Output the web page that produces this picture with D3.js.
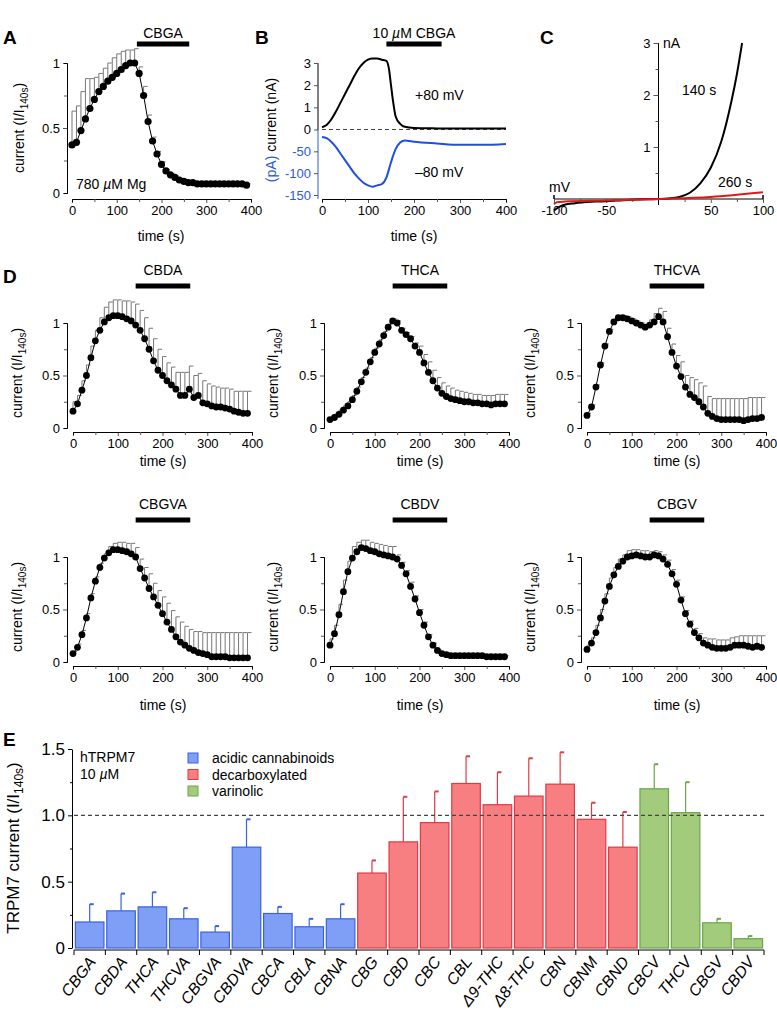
<!DOCTYPE html>
<html><head><meta charset="utf-8">
<script src="https://cdn.jsdelivr.net/npm/d3@7/dist/d3.min.js"></script>
<style>body{margin:0;background:#fff}text{font-family:"Liberation Sans",Arial,sans-serif}</style>
</head><body>
<svg id="c" width="777" height="1012"></svg>
<script>
const timeA = d3.range(0, 400, 10);
const valA = [0.37,0.39,0.48,0.57,0.65,0.72,0.78,0.82,0.86,0.89,0.92,0.95,0.98,1.0,1.0,0.92,0.75,0.55,0.40,0.30,0.22,0.17,0.14,0.12,0.10,0.09,0.08,0.08,0.07,0.07,0.07,0.07,0.07,0.07,0.07,0.07,0.07,0.07,0.07,0.06];
const errA = [0.63,0.67,0.78,0.88,0.88,0.89,0.92,0.96,1.0,1.04,1.07,1.09,1.1,1.1,1.11,0.97,0.82,0.6,0.43,0.32,0.24,0.18,0.15,0.13,0.11,0.1,0.09,0.09,0.08,0.08,0.08,0.08,0.08,0.08,0.08,0.08,0.08,0.08,0.08,0.07];

const timeB = [0,10,20,30,40,50,60,70,80,90,100,110,120,130,140,145,150,155,160,170,180,200,250,300,400];
const posB = [0.1,0.2,0.45,0.8,1.2,1.6,2.0,2.4,2.75,3.0,3.15,3.2,3.2,3.15,3.1,2.8,2.0,1.2,0.6,0.25,0.12,0.07,0.05,0.04,0.04];
const timeBn = [0,10,20,30,40,50,60,70,80,90,100,110,120,130,140,150,160,170,180,200,250,300,350,400];
const negB = [-17,-20,-28,-40,-55,-70,-85,-100,-112,-122,-128,-131,-128,-125,-110,-75,-45,-30,-25,-28,-32,-35,-35,-33];

const vC1 = [-100,-95,-90,-80,-60,-40,-20,0,10,20,30,40,50,60,70,75,80];
const iC1 = [-0.22,-0.15,-0.11,-0.08,-0.05,-0.03,-0.01,0,0.01,0.04,0.12,0.3,0.6,1.1,1.9,2.4,3.0];
const vC2 = [-100,-97,-90,-50,0,50,100];
const iC2 = [-0.1,-0.06,-0.05,-0.03,0,0.04,0.13];

const timeD = d3.range(0, 400, 10);
const dNames = ["CBDA","THCA","THCVA","CBGVA","CBDV","CBGV"];
const dVal = [
[0.16,0.23,0.36,0.5,0.67,0.83,0.93,1.01,1.05,1.07,1.07,1.06,1.04,1.02,0.98,0.93,0.85,0.75,0.64,0.55,0.5,0.45,0.41,0.37,0.31,0.31,0.37,0.29,0.31,0.24,0.23,0.21,0.2,0.2,0.19,0.18,0.16,0.15,0.14,0.14],
[0.08,0.1,0.13,0.17,0.21,0.27,0.35,0.44,0.53,0.63,0.72,0.8,0.88,0.96,1.02,1.0,0.93,0.89,0.85,0.78,0.72,0.62,0.53,0.45,0.38,0.33,0.3,0.28,0.27,0.26,0.25,0.25,0.24,0.24,0.23,0.23,0.22,0.23,0.23,0.23],
[0.12,0.2,0.39,0.6,0.78,0.92,1.01,1.05,1.05,1.04,1.02,1.0,0.98,0.96,0.98,1.01,1.06,1.01,0.87,0.72,0.59,0.49,0.39,0.32,0.29,0.25,0.2,0.14,0.11,0.09,0.08,0.08,0.08,0.08,0.08,0.07,0.08,0.09,0.09,0.1],
[0.08,0.14,0.26,0.42,0.61,0.77,0.9,0.99,1.04,1.07,1.07,1.06,1.05,1.03,1.0,0.89,0.8,0.7,0.62,0.54,0.46,0.38,0.31,0.24,0.19,0.16,0.13,0.11,0.09,0.08,0.07,0.05,0.05,0.05,0.05,0.04,0.04,0.04,0.04,0.04],
[0.16,0.27,0.45,0.67,0.86,0.99,1.05,1.09,1.08,1.06,1.05,1.03,1.02,1.01,1.0,0.98,0.92,0.84,0.72,0.6,0.47,0.35,0.24,0.16,0.11,0.08,0.07,0.06,0.06,0.06,0.06,0.06,0.06,0.06,0.06,0.05,0.05,0.05,0.05,0.05],
[0.12,0.18,0.28,0.42,0.58,0.72,0.83,0.91,0.96,1.0,1.01,1.02,1.01,1.0,1.0,1.02,1.01,0.98,0.93,0.84,0.74,0.59,0.46,0.36,0.28,0.23,0.18,0.16,0.14,0.13,0.13,0.13,0.14,0.16,0.16,0.16,0.15,0.14,0.15,0.14]];
const dErr = [
[0.25,0.31,0.45,0.6,0.78,0.93,1.05,1.15,1.2,1.22,1.22,1.21,1.21,1.2,1.18,1.12,1.05,0.95,0.85,0.75,0.68,0.62,0.58,0.53,0.53,0.53,0.59,0.5,0.52,0.45,0.42,0.4,0.39,0.38,0.38,0.37,0.35,0.35,0.35,0.35],
[0.1,0.13,0.17,0.21,0.25,0.31,0.39,0.48,0.57,0.67,0.76,0.84,0.92,0.99,1.04,1.02,0.95,0.91,0.87,0.81,0.78,0.7,0.63,0.55,0.48,0.43,0.4,0.38,0.36,0.35,0.34,0.33,0.32,0.32,0.31,0.31,0.31,0.32,0.32,0.32],
[0.14,0.22,0.41,0.62,0.8,0.94,1.03,1.07,1.07,1.06,1.04,1.02,1.0,0.98,1.03,1.09,1.14,1.11,0.95,0.8,0.69,0.63,0.5,0.48,0.46,0.43,0.4,0.3,0.28,0.28,0.28,0.28,0.28,0.28,0.28,0.28,0.29,0.29,0.29,0.29],
[0.1,0.17,0.3,0.46,0.65,0.81,0.94,1.03,1.1,1.13,1.14,1.14,1.13,1.13,1.09,0.98,0.9,0.84,0.75,0.68,0.62,0.56,0.49,0.43,0.38,0.34,0.31,0.29,0.29,0.28,0.28,0.28,0.28,0.28,0.28,0.28,0.28,0.28,0.28,0.28],
[0.22,0.35,0.55,0.78,0.96,1.1,1.14,1.16,1.16,1.14,1.13,1.12,1.11,1.1,1.1,1.02,0.95,0.87,0.76,0.63,0.5,0.38,0.26,0.18,0.12,0.09,0.08,0.07,0.07,0.07,0.07,0.07,0.07,0.07,0.07,0.06,0.06,0.06,0.06,0.06],
[0.16,0.23,0.35,0.5,0.65,0.8,0.9,0.98,1.02,1.06,1.07,1.07,1.06,1.06,1.05,1.06,1.05,1.02,0.97,0.88,0.78,0.62,0.49,0.39,0.32,0.27,0.23,0.22,0.22,0.21,0.21,0.21,0.23,0.24,0.25,0.25,0.25,0.25,0.25,0.25]];

const eNames = ["CBGA","CBDA","THCA","THCVA","CBGVA","CBDVA","CBCA","CBLA","CBNA","CBG","CBD","CBC","CBL","Δ9-THC","Δ8-THC","CBN","CBNM","CBND","CBCV","THCV","CBGV","CBDV"];
const eVal = [0.196,0.28,0.31,0.22,0.12,0.76,0.26,0.16,0.22,0.565,0.80,0.945,1.24,1.08,1.145,1.235,0.97,0.76,1.2,1.02,0.19,0.07];
const eTop = [0.33,0.41,0.42,0.30,0.165,0.97,0.31,0.22,0.33,0.66,1.14,1.18,1.445,1.325,1.43,1.475,1.095,1.025,1.385,1.25,0.22,0.09];
const eGroup = ["a","a","a","a","a","a","a","a","a","d","d","d","d","d","d","d","d","d","v","v","v","v"];
const groupLabels = {a:"acidic cannabinoids", d:"decarboxylated", v:"varinolic"};

const fills = {a:"#7f9ef6", d:"#f77f82", v:"#a3cb7c"};
const strokes = {a:"#3a62e0", d:"#e03a44", v:"#6aa54a"};
const svg = d3.select("#c");
const fmt = d => String(d);

function label(t,x,y){svg.append("text").attr("x",x).attr("y",y).attr("font-size",19).attr("font-weight","bold").text(t);}
function yTitle(x,cy,parts){
  const t=svg.append("text").attr("transform",`translate(${x},${cy}) rotate(-90)`).attr("text-anchor","middle").attr("font-size",14);
  parts.forEach(p=>{const s=t.append("tspan").text(p.t); if(p.sub) s.attr("font-size",10).attr("dy",4); if(p.after) s.attr("dy",-4); if(p.fill) s.attr("fill",p.fill);});
  return t;
}
function curTitle(x,cy){yTitle(x,cy,[{t:"current (I/I"},{t:"140s",sub:1},{t:")",after:1}]);}
function styleTicks(){svg.selectAll(".tick text").attr("font-size",13).attr("font-family","Liberation Sans, Arial");}
function axes(x,y,ax,ay,yticks,yminor){
  const gx=svg.append("g").attr("transform",`translate(0,${ay})`).call(d3.axisBottom(x).tickValues([0,100,200,300,400]).tickSize(4).tickSizeOuter(0));
  svg.append("g").attr("transform",`translate(0,${ay})`).call(d3.axisBottom(x).tickValues(d3.range(50,400,100)).tickSize(3).tickFormat(""));
  const gy=svg.append("g").attr("transform",`translate(${ax},0)`).call(d3.axisLeft(y).tickValues(yticks).tickSize(4).tickSizeOuter(0).tickFormat(fmt));
  if(yminor) svg.append("g").attr("transform",`translate(${ax},0)`).call(d3.axisLeft(y).tickValues(yminor).tickSize(3).tickFormat(""));
  styleTicks();
  [gx,gy].forEach(g=>g.select(".domain").attr("stroke","#555"));
  svg.selectAll(".tick line").attr("stroke","#555");
}
function drug(x,name,ty,by,t0,t1,nameParts){
  svg.append("rect").attr("x",x(t0)).attr("y",by-2.5).attr("width",x(t1)-x(t0)).attr("height",5).attr("fill","#000");
  const t=svg.append("text").attr("x",(x(t0)+x(t1))/2).attr("y",ty).attr("text-anchor","middle").attr("font-size",14);
  if(nameParts) nameParts.forEach(p=>{const s=t.append("tspan").text(p.t); if(p.it) s.attr("font-style","italic");}); else t.text(name);
}
function timecourse(x,y,vals,errs,r){
  svg.append("g").selectAll("line").data(timeA).join("line")
    .attr("x1",d=>x(d)).attr("x2",d=>x(d)).attr("y1",(d,i)=>y(vals[i])).attr("y2",(d,i)=>y(errs[i])).attr("stroke","#777").attr("stroke-width",1);
  svg.append("g").selectAll("line").data(timeA).join("line")
    .attr("x1",d=>x(d)).attr("x2",d=>x(d)+4).attr("y1",(d,i)=>y(errs[i])).attr("y2",(d,i)=>y(errs[i])).attr("stroke","#777").attr("stroke-width",1);
  svg.append("path").attr("d",d3.line().x(d=>x(d)).y((d,i)=>y(vals[i]))(timeA)).attr("fill","none").attr("stroke","#000").attr("stroke-width",1);
  svg.append("g").selectAll("circle").data(timeA).join("circle").attr("cx",d=>x(d)).attr("cy",(d,i)=>y(vals[i])).attr("r",r).attr("fill","#000");
}
function timeLabel(cx,y){svg.append("text").attr("x",cx).attr("y",y).attr("text-anchor","middle").attr("font-size",14).text("time (s)");}

// Panel A
{
  const x=d3.scaleLinear().domain([0,400]).range([72,251]);
  const y=d3.scaleLinear().domain([0,1]).range([193,63]);
  axes(x,y,67,199,[0,0.5,1],[0.25,0.75]);
  timecourse(x,y,valA,errA,3.6);
  drug(x,"CBGA",38,44,145,262);
  label("A",3,44);
  curTitle(24,128);
  timeLabel(161,241);
  const t=svg.append("text").attr("x",76).attr("y",189).attr("font-size",14);
  t.append("tspan").text("780 ");t.append("tspan").attr("font-style","italic").text("µ");t.append("tspan").text("M Mg");
}
// Panel B
{
  const x=d3.scaleLinear().domain([0,400]).range([322,506]);
  const y=d3.scaleLinear().domain([0,3]).range([129.5,63]);
  const yp=d3.scaleLinear().domain([-150,0]).range([195,129.5]);
  svg.append("g").attr("transform","translate(0,199)").call(d3.axisBottom(x).tickValues([0,100,200,300,400]).tickSize(4).tickSizeOuter(0));
  svg.append("g").attr("transform","translate(0,199)").call(d3.axisBottom(x).tickValues([50,150,250,350]).tickSize(3).tickFormat(""));
  svg.append("g").attr("transform","translate(318,0)").call(d3.axisLeft(y).tickValues([0,1,2,3]).tickSize(4).tickSizeOuter(0).tickFormat(fmt)).select(".domain").attr("d","M-0,63V130");
  const gp=svg.append("g").attr("transform","translate(318,0)").call(d3.axisLeft(yp).tickValues([-150,-100,-50]).tickSize(4).tickSizeOuter(0).tickFormat(fmt));
  gp.select(".domain").attr("d","M0,130V199").attr("stroke","#2a5ad8");
  gp.selectAll("line").attr("stroke","#2a5ad8"); gp.selectAll("text").attr("fill","#2a5ad8");
  styleTicks();
  svg.append("line").attr("x1",322).attr("x2",506).attr("y1",y(0)).attr("y2",y(0)).attr("stroke","#444").attr("stroke-dasharray","4,3");
  svg.append("path").attr("d",d3.line().curve(d3.curveMonotoneX).x(d=>x(d)).y((d,i)=>y(posB[i]))(timeB)).attr("fill","none").attr("stroke","#000").attr("stroke-width",2);
  svg.append("path").attr("d",d3.line().curve(d3.curveMonotoneX).x(d=>x(d)).y((d,i)=>yp(negB[i]))(timeBn)).attr("fill","none").attr("stroke","#1f4fe0").attr("stroke-width",2);
  drug(x,"",38,44,140,260,[{t:"10 "},{t:"µ",it:1},{t:"M CBGA"}]);
  label("B",255,44);
  yTitle(276,130,[{t:"(pA) ",fill:"#2a5ad8"},{t:"current (nA)"}]);
  timeLabel(414,241);
  svg.append("text").attr("x",415).attr("y",100).attr("font-size",14).text("+80 mV");
  svg.append("text").attr("x",415).attr("y",177).attr("font-size",14).text("–80 mV");
}
// Panel C
{
  const x=d3.scaleLinear().domain([-100,100]).range([554,763]);
  const y=d3.scaleLinear().domain([0,3]).range([199,43]);
  const gx=svg.append("g").attr("transform","translate(0,199)").call(d3.axisBottom(x).tickValues([-100,-50,50,100]).tickSize(4).tickSizeOuter(0).tickFormat(fmt));
  gx.select(".domain").attr("d","M554,0V-4V0H763V-4V0");
  svg.append("g").attr("transform","translate(0,199)").call(d3.axisBottom(x).tickValues([-75,-25,25,75]).tickSize(3).tickFormat("")).select(".domain").remove();
  svg.append("line").attr("x1",x(0)).attr("x2",x(0)).attr("y1",43).attr("y2",205).attr("stroke","#000");
  svg.append("g").attr("transform",`translate(${x(0)},0)`).call(d3.axisLeft(y).tickValues([1,2,3]).tickSize(5).tickSizeOuter(0).tickFormat(fmt)).select(".domain").remove();
  svg.append("g").attr("transform",`translate(${x(0)},0)`).call(d3.axisLeft(y).tickValues([0.5,1.5,2.5]).tickSize(3).tickFormat("")).select(".domain").remove();
  styleTicks();
  svg.append("path").attr("d",d3.line().curve(d3.curveMonotoneX).x(d=>x(d)).y((d,i)=>y(iC1[i]))(vC1)).attr("fill","none").attr("stroke","#000").attr("stroke-width",2);
  svg.append("path").attr("d",d3.line().curve(d3.curveMonotoneX).x(d=>x(d)).y((d,i)=>y(iC2[i]))(vC2)).attr("fill","none").attr("stroke","#e01818").attr("stroke-width",2);
  label("C",540,44);
  svg.append("text").attr("x",663).attr("y",48).attr("font-size",14).text("nA");
  svg.append("text").attr("x",682).attr("y",95).attr("font-size",14).text("140 s");
  svg.append("text").attr("x",718).attr("y",187).attr("font-size",14).text("260 s");
  svg.append("text").attr("x",549).attr("y",192).attr("font-size",14).text("mV");
}
// Panel D
const colX=[73,330,587], colAx=[67,324,581], colT=[22,278,535];
const rowY0=[428,662], rowAx=[432,666], rowTitle=[280,514], rowBar=[286,520], rowTime=[466,710];
dNames.forEach((name,k)=>{
  const c=k%3, r=Math.floor(k/3);
  const x=d3.scaleLinear().domain([0,400]).range([colX[c],colX[c]+179]);
  const y=d3.scaleLinear().domain([0,1]).range([rowY0[r],rowY0[r]-105]);
  axes(x,y,colAx[c],rowAx[r],[0,0.5,1],[0.25,0.75]);
  timecourse(x,y,dVal[k],dErr[k],3.4);
  drug(x,name,rowTitle[r]-5,rowBar[r],140,262);
  curTitle(colT[c],rowY0[r]-55);
  timeLabel(colX[c]+90,rowTime[r]);
});
label("D",3,283);

// Panel E
{
  const x=d3.scaleBand().domain(eNames).range([74,764]).paddingInner(0.09).paddingOuter(0.045);
  const y=d3.scaleLinear().domain([0,1.5]).range([948,749]);
  svg.append("g").selectAll("rect").data(eNames).join("rect")
    .attr("x",d=>x(d)).attr("width",x.bandwidth()).attr("y",(d,i)=>y(eVal[i])).attr("height",(d,i)=>y(0)-y(eVal[i]))
    .attr("fill",(d,i)=>fills[eGroup[i]]).attr("stroke",(d,i)=>strokes[eGroup[i]]).attr("stroke-width",1.2);
  svg.append("g").selectAll("line").data(eNames).join("line")
    .attr("x1",d=>x(d)+x.bandwidth()/2).attr("x2",d=>x(d)+x.bandwidth()/2).attr("y1",(d,i)=>y(eVal[i])).attr("y2",(d,i)=>y(eTop[i]))
    .attr("stroke",(d,i)=>strokes[eGroup[i]]).attr("stroke-width",1.2);
  svg.append("g").selectAll("line").data(eNames).join("line")
    .attr("x1",d=>x(d)+x.bandwidth()/2).attr("x2",d=>x(d)+x.bandwidth()/2+4).attr("y1",(d,i)=>y(eTop[i])).attr("y2",(d,i)=>y(eTop[i]))
    .attr("stroke",(d,i)=>strokes[eGroup[i]]).attr("stroke-width",2);
  svg.append("line").attr("x1",74).attr("x2",764).attr("y1",y(1)).attr("y2",y(1)).attr("stroke","#444").attr("stroke-dasharray","4,3").attr("stroke-width",1.2);
  const bounds=d3.range(0,23).map(i=>74+i*(690/22));
  svg.append("line").attr("x1",74).attr("x2",764).attr("y1",950).attr("y2",950).attr("stroke","#000");
  svg.append("g").selectAll("line").data(bounds).join("line").attr("x1",d=>d).attr("x2",d=>d).attr("y1",950).attr("y2",955).attr("stroke","#000");
  const gy=svg.append("g").attr("transform","translate(72,0)").call(d3.axisLeft(y).tickValues([0,0.5,1,1.5]).tickSize(4).tickSizeOuter(0).tickFormat(d=>d===0?"0":d3.format(".1f")(d)));
  gy.selectAll("text").attr("font-size",17).attr("font-family","Liberation Sans, Arial");
  svg.append("g").attr("transform","translate(72,0)").call(d3.axisLeft(y).tickValues([0.25,0.75,1.25]).tickSize(2).tickFormat("")).select(".domain").remove();
  svg.append("g").selectAll("text").data(eNames).join("text")
    .attr("transform",d=>`translate(${x(d)+x.bandwidth()/2+7},${962}) rotate(-52)`)
    .attr("text-anchor","end").attr("font-size",16).attr("font-style","italic").text(d=>d);
  label("E",3,746);
  const t=svg.append("text").attr("transform","translate(19,848) rotate(-90)").attr("text-anchor","middle").attr("font-size",17);
  t.append("tspan").text("TRPM7 current (I/I");t.append("tspan").attr("font-size",12).attr("dy",4).text("140s");t.append("tspan").attr("dy",-4).text(")");
  svg.append("text").attr("x",80).attr("y",762).attr("font-size",14).text("hTRPM7");
  const t2=svg.append("text").attr("x",80).attr("y",779).attr("font-size",14);
  t2.append("tspan").text("10 ");t2.append("tspan").attr("font-style","italic").text("µ");t2.append("tspan").text("M");
  ["a","d","v"].forEach((g,i)=>{
    svg.append("rect").attr("x",188).attr("y",753+i*16.5).attr("width",10).attr("height",10).attr("fill",fills[g]).attr("stroke",strokes[g]);
    svg.append("text").attr("x",212).attr("y",763+i*16.5).attr("font-size",14).text(groupLabels[g]);
  });
}
</script></body></html>
